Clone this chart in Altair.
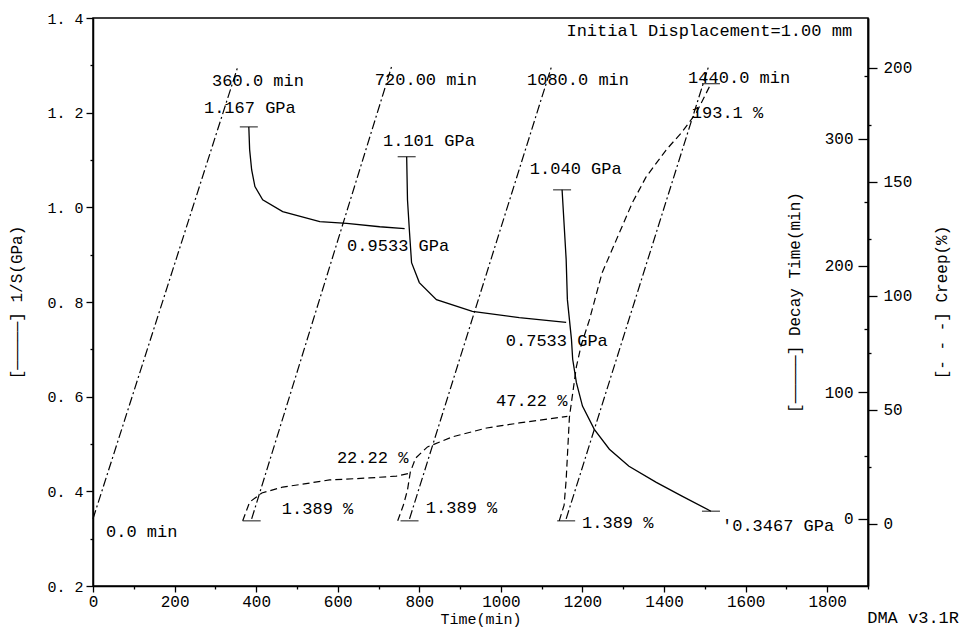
import altair as alt
import pandas as pd

FONT = "Liberation Mono"

# ---------------- 1/S (GPa) : solid curves ----------------
s1_t = [382, 384, 389, 397, 416, 465, 556, 622, 703, 764]
s1_v = [1.170, 1.122, 1.079, 1.044, 1.016, 0.991, 0.970, 0.966, 0.959, 0.955]
s2_t = [769, 771, 776, 781, 800, 842, 930, 1045, 1160]
s2_v = [1.107, 1.016, 0.947, 0.883, 0.841, 0.805, 0.780, 0.767, 0.757]
s3_t = [1150, 1160, 1163, 1173, 1176, 1185, 1200, 1229, 1266, 1314, 1381, 1444, 1515]
s3_v = [1.037, 0.890, 0.805, 0.721, 0.679, 0.630, 0.580, 0.531, 0.489, 0.453, 0.419, 0.390, 0.358]
s_mark_t = [382, 769, 1150, 1515]
s_mark_v = [1.170, 1.107, 1.037, 0.358]

# ---------------- Decay Time (min) : dash-dot lines ----------------
d_t = [0, 355, 389, 732, 776, 1124, 1160, 1510]
d_v = [0, 357, 0, 357, 0, 357, 0, 358]
d_seg = [1, 1, 2, 2, 3, 3, 4, 4]

# ---------------- Creep (%) : dashed curves ----------------
c1_t = [367, 384, 414, 465, 500, 580, 678, 744, 776]
c1_v = [1.389, 9.6, 13.6, 16.2, 17.1, 19.3, 20.2, 21.0, 22.22]
c2_t = [747, 761, 771, 778, 791, 820, 881, 965, 1045, 1163]
c2_v = [1.389, 8.3, 14.9, 22.8, 28.9, 33.8, 38.2, 42.1, 44.3, 47.22]
c3_t = [1143, 1155, 1160, 1168, 1185, 1197, 1217, 1248, 1283, 1322, 1356, 1405, 1444, 1479, 1515]
c3_v = [1.389, 8.3, 19.3, 46.9, 68.9, 78.5, 89.5, 110.1, 124.6, 140.8, 152.2, 164.0, 171.9, 180.3, 193.1]
c_mark_t = [389, 776, 1160, 1515]
c_mark_v = [1.389, 1.389, 1.389, 193.1]

# ---------------- annotations (placed in Time / 1/S units) ----------------
lab_text = ["360.0 min", "1.167 GPa", "720.00 min", "1.101 GPa", "1080.0 min",
            "1.040 GPa", "1440.0 min", "193.1 %", "0.9533 GPa", "0.7533 GPa",
            "47.22 %", "22.22 %", "1.389 %", "1.389 %", "1.389 %", "0.0 min",
            "'0.3467 GPa", "DMA v3.1R"]
lab_t = [292, 272, 691, 711, 1064, 1071, 1459, 1468, 623, 1012,
         988, 598, 463, 816, 1199, 32, 1542, 1898]
lab_v = [1.267, 1.210, 1.269, 1.140, 1.269, 1.081, 1.273, 1.199, 0.918, 0.718,
         0.591, 0.470, 0.363, 0.365, 0.333, 0.314, 0.327, 0.132]
head_text = ["Initial Displacement=1.00 mm"]
head_t = [1861]
head_v = [1.373]

# axis tick values
x_ticks = [0, 100, 200, 300, 400, 500, 600, 700, 800, 900, 1000, 1100, 1200,
           1300, 1400, 1500, 1600, 1700, 1800, 1900]
s_ticks = [0.2, 0.3, 0.4, 0.5, 0.6, 0.7, 0.8, 0.9, 1.0, 1.1, 1.2, 1.3, 1.4]
d_ticks = [0, 50, 100, 150, 200, 250, 300, 350]
c_ticks = [0, 25, 50, 75, 100, 125, 150, 175, 200]


def segs(pairs):
    rows = []
    for k, (ts, vs) in enumerate(pairs):
        for t, v in zip(ts, vs):
            rows.append({"t": t, "v": v, "seg": k})
    return pd.DataFrame(rows)


S = segs([(s1_t, s1_v), (s2_t, s2_v), (s3_t, s3_v)])
SM = pd.DataFrame({"t": s_mark_t, "v": s_mark_v})
D = pd.DataFrame({"t": d_t, "v": d_v, "seg": d_seg})
C = segs([(c1_t, c1_v), (c2_t, c2_v), (c3_t, c3_v)])
CM = pd.DataFrame({"t": c_mark_t, "v": c_mark_v})
L = pd.DataFrame({"t": lab_t, "v": lab_v, "txt": lab_text})
H = pd.DataFrame({"t": head_t, "v": head_v, "txt": head_text})

xscale = alt.Scale(domain=[0, 1900], nice=False, zero=False)


def X():
    # identical x definition in every layer so the shared axis merges cleanly
    return alt.X(
        "t:Q", scale=xscale, title="Time(min)",
        axis=alt.Axis(
            orient="bottom", values=x_ticks, labelFlush=False, labelOverlap=False,
            labelExpr="datum.value % 200 == 0 ? format(datum.value, 'd') : ''",
            tickSize={"condition": {"test": "datum.value % 200 == 0", "value": 6}, "value": 3},
            labelPadding=1, labelFontSize=16,
            titleY=37, titleBaseline="alphabetic", titleFontSize=15,
        ),
    )


s_scale = alt.Scale(domain=[0.2, 1.4], nice=False, zero=False)
d_scale = alt.Scale(domain=[-53, 395.4], nice=False, zero=False)
c_scale = alt.Scale(domain=[-27.2, 221.9], nice=False, zero=False)

s_line = alt.Chart(S).mark_line(color="black", strokeWidth=1.3).encode(
    x=X(),
    y=alt.Y("v:Q", scale=s_scale, title="[—————]  1/S(GPa)",
            axis=alt.Axis(
                orient="left", values=s_ticks, labelOverlap=False, labelFlush=False,
                labelExpr="round(datum.value*10) % 2 == 0 ? replace(format(datum.value, '.1f'), '.', '. ') : ''",
                tickSize={"condition": {"test": "round(datum.value*10) % 2 == 0", "value": 7}, "value": 3},
                labelPadding=3, titlePadding=22, labelFontSize=15,
            )),
    detail="seg:N",
)
s_marks = alt.Chart(SM).mark_tick(orient="horizontal", color="black", size=18, thickness=1.3).encode(
    x=X(), y=alt.Y("v:Q", scale=s_scale, axis=None))
txt = alt.Chart(L).mark_text(align="left", baseline="middle", font=FONT, fontSize=17, color="black").encode(
    x=X(), y=alt.Y("v:Q", scale=s_scale, axis=None), text="txt:N")
head = alt.Chart(H).mark_text(align="right", baseline="middle", font=FONT, fontSize=17, color="black").encode(
    x=X(), y=alt.Y("v:Q", scale=s_scale, axis=None), text="txt:N")

d_line = alt.Chart(D).mark_line(color="black", strokeWidth=1.2, strokeDash=[9, 3, 2, 3]).encode(
    x=X(),
    y=alt.Y("v:Q", scale=d_scale, title="[—————]  Decay Time(min)",
            axis=alt.Axis(
                orient="left", offset=-775, values=d_ticks, labelOverlap=False,
                labelExpr="datum.value % 100 == 0 ? format(datum.value, 'd') : ''",
                tickSize={"condition": {"test": "datum.value % 100 == 0", "value": 10}, "value": 4},
                labelPadding=5, titlePadding=22, labelFontSize=16,
            )),
    detail="seg:N",
)

c_line = alt.Chart(C).mark_line(color="black", strokeWidth=1.2, strokeDash=[7, 4]).encode(
    x=X(),
    y=alt.Y("v:Q", scale=c_scale, title="[- - -] Creep(%)",
            axis=alt.Axis(
                orient="right", values=c_ticks, labelOverlap=False,
                labelExpr="datum.value % 50 == 0 ? format(datum.value, 'd') : ''",
                tickSize={"condition": {"test": "datum.value % 50 == 0", "value": 9}, "value": 3},
                labelPadding=6, titlePadding=22, labelFontSize=16,
                titleAngle=270, titleBaseline="top",
            )),
    detail="seg:N",
)
c_marks = alt.Chart(CM).mark_tick(orient="horizontal", color="black", size=18, thickness=1.3).encode(
    x=X(), y=alt.Y("v:Q", scale=c_scale, axis=None))

chart = alt.layer(s_line, d_line, c_line, s_marks, c_marks, txt, head).resolve_scale(
    y="independent"
).properties(
    width=775, height=568,
    padding={"left": 93, "top": 18, "right": 92, "bottom": 44},
    autosize=alt.AutoSizeParams(type="none"),
    background="white",
).configure_view(stroke="black", strokeWidth=1.5).configure_axis(
    grid=False, domainColor="black", domainWidth=1.5, tickColor="black", tickWidth=1.3,
    labelColor="black", titleColor="black", labelFont=FONT, titleFont=FONT,
    titleFontSize=16, titleFontWeight="normal",
)

chart.save("out.html", embed_options={"renderer": "svg", "actions": False})
